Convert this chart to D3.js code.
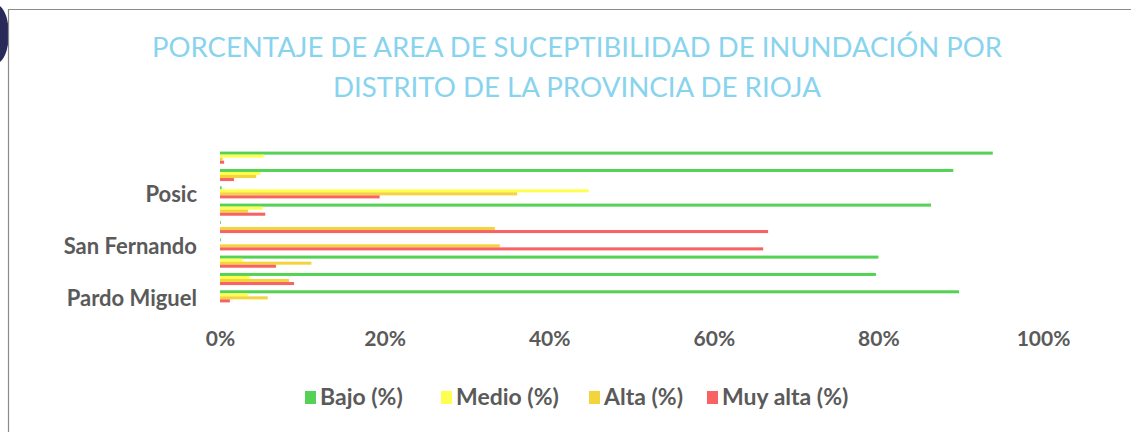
<!DOCTYPE html>
<html>
<head>
<meta charset="utf-8">
<script src="https://cdn.jsdelivr.net/npm/d3@7"></script>
<style>
  html, body { margin: 0; padding: 0; background: #ffffff; }
  svg { display: block; }
</style>
</head>
<body>
<svg id="chart" width="1131" height="432"></svg>
<script>
// Categories, top to bottom as drawn
const categories = ["Rioja", "Awajún", "Posic", "Nueva Cajamarca", "Yuracyacu", "San Fernando", "Elías Soplín Vargas", "Yorongos", "Pardo Miguel"];
const shownLabels = ["Posic", "San Fernando", "Pardo Miguel"];
const seriesNames = ["Bajo (%)", "Medio (%)", "Alta (%)", "Muy alta (%)"];
const bajo    = [93.9, 89.1, 0.2, 86.4, 0.1, 0.1, 80.0, 79.7, 89.8];
const medio   = [5.3, 4.9, 44.8, 5.2, 0.0, 0.0, 2.7, 3.6, 3.4];
const alta    = [0.3, 4.4, 36.1, 3.4, 33.4, 34.0, 11.1, 8.4, 5.8];
const muyAlta = [0.5, 1.7, 19.4, 5.5, 66.6, 66.0, 6.8, 9.0, 1.2];
const tickValues = [0, 20, 40, 60, 80, 100];
const titleLines = ["PORCENTAJE DE AREA DE SUCEPTIBILIDAD DE INUNDACIÓN POR", "DISTRITO DE LA PROVINCIA DE RIOJA"];
const colors = ["#55d255", "#ffff50", "#f4d43c", "#f86262"];

const seriesValues = [bajo, medio, alta, muyAlta];
const svg = d3.select("#chart");
const FONT = "Lato, 'Open Sans', sans-serif";

// scan-like frame and corner mark
svg.append("path")
  .attr("d", "M0,6 A14,30 0 0 1 0,62 Z")
  .attr("fill", "#2a2a5a");
svg.append("path")
  .attr("d", "M8.5,440 L8.5,9.5 L1140,9.5")
  .attr("fill", "none").attr("stroke", "#8a8a8a").attr("stroke-width", 1.2);

// title
svg.selectAll("text.title").data(titleLines).join("text")
  .attr("class", "title")
  .attr("x", 577)
  .attr("y", (d, i) => 57 + i * 40)
  .attr("text-anchor", "middle")
  .attr("font-family", FONT)
  .attr("font-size", 26)
  .attr("fill", "#88d3ee")
  .attr("textLength", (d, i) => i === 0 ? 850 : 488)
  .attr("lengthAdjust", "spacingAndGlyphs")
  .text(d => d);

const x = d3.scaleLinear().domain([0, 100]).range([220, 1043]);
const y0 = d3.scaleBand().domain(categories).range([149, 305]).paddingInner(0.3).paddingOuter(0.15);
const y1 = d3.scaleBand().domain(d3.range(seriesNames.length)).range([0, y0.bandwidth()]);

const rows = categories.map((c, i) => ({ cat: c, vals: seriesValues.map(s => s[i]) }));

const g = svg.selectAll("g.grp").data(rows).join("g")
  .attr("class", "grp")
  .attr("transform", d => `translate(0,${y0(d.cat)})`);

g.selectAll("rect").data(d => d.vals.map((v, k) => ({ v, k }))).join("rect")
  .attr("x", x(0))
  .attr("y", d => y1(d.k))
  .attr("width", d => Math.max(0, x(d.v) - x(0)))
  .attr("height", y1.bandwidth())
  .attr("fill", d => colors[d.k]);

// category axis (only every third label shown)
const yAxis = d3.axisLeft(y0).tickValues(shownLabels).tickSize(0).tickPadding(0);
const ya = svg.append("g").attr("transform", "translate(197,3)").call(yAxis);
ya.select(".domain").remove();
ya.selectAll("text")
  .attr("font-family", FONT)
  .attr("font-weight", "bold")
  .attr("font-size", 22)
  .attr("fill", "#5a5a5a");

// value axis
const xAxis = d3.axisBottom(x).tickValues(tickValues).tickFormat(d => d + "%").tickSize(0).tickPadding(0);
const xa = svg.append("g").attr("transform", "translate(0,331)").call(xAxis);
xa.select(".domain").remove();
xa.selectAll("text")
  .attr("font-family", FONT)
  .attr("font-weight", "bold")
  .attr("font-size", 21)
  .attr("fill", "#5a5a5a");

// legend
const legendX = [305, 441, 589, 707];
const lg = svg.selectAll("g.leg").data(seriesNames).join("g")
  .attr("class", "leg")
  .attr("transform", (d, i) => `translate(${legendX[i]},391)`);
lg.append("rect").attr("x", 0).attr("y", 0).attr("width", 11).attr("height", 13)
  .attr("fill", (d, i) => colors[i]);
lg.append("text").attr("x", 15).attr("y", 14)
  .attr("font-family", FONT)
  .attr("font-weight", "bold")
  .attr("font-size", 23)
  .attr("fill", "#5a5a5a")
  .text(d => d);
</script>
</body>
</html>
